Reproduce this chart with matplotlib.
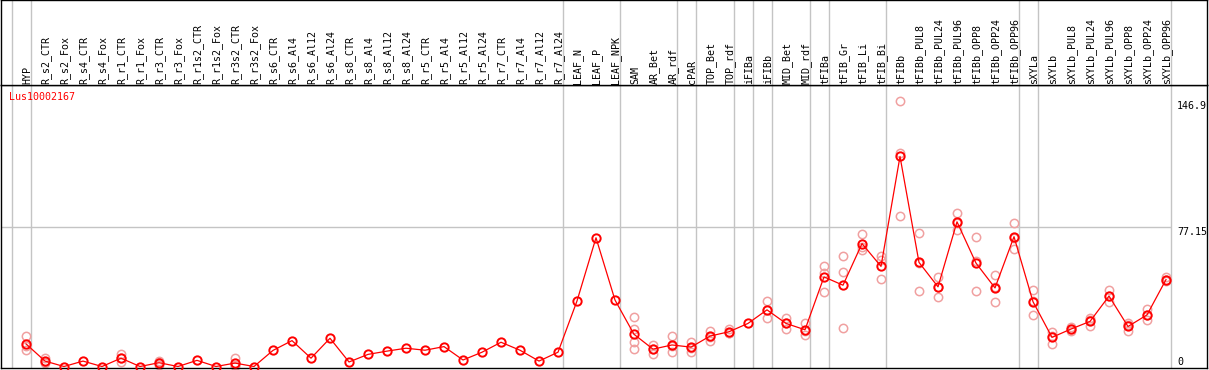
import matplotlib
matplotlib.use("Agg")
import matplotlib.pyplot as plt
from matplotlib.transforms import blended_transform_factory

gene = "Lus10002167"

labels = ["HYP",
          "R_s2_CTR", "R_s2_Fox", "R_s4_CTR", "R_s4_Fox", "R_r1_CTR", "R_r1_Fox",
          "R_r3_CTR", "R_r3_Fox", "R_r1s2_CTR", "R_r1s2_Fox", "R_r3s2_CTR", "R_r3s2_Fox",
          "R_s6_CTR", "R_s6_Al4", "R_s6_Al12", "R_s6_Al24",
          "R_s8_CTR", "R_s8_Al4", "R_s8_Al12", "R_s8_Al24",
          "R_r5_CTR", "R_r5_Al4", "R_r5_Al12", "R_r5_Al24",
          "R_r7_CTR", "R_r7_Al4", "R_r7_Al12", "R_r7_Al24",
          "LEAF_N", "LEAF_P", "LEAF_NPK",
          "SAM", "AR_Bet", "AR_rdf", "cPAR", "TOP_Bet", "TOP_rdf",
          "iFIBa", "iFIBb", "MID_Bet", "MID_rdf",
          "tFIBa", "tFIB_Gr", "tFIB_Li", "tFIB_Bi",
          "tFIBb", "tFIBb_PUL8", "tFIBb_PUL24", "tFIBb_PUL96",
          "tFIBb_OPP8", "tFIBb_OPP24", "tFIBb_OPP96",
          "sXYLa", "sXYLb", "sXYLb_PUL8", "sXYLb_PUL24", "sXYLb_PUL96",
          "sXYLb_OPP8", "sXYLb_OPP24", "sXYLb_OPP96"]

# mean expression per sample
means = [12.5,
         3.0, 0.0, 3.0, 0.0, 4.6, 0.0, 2.1, 0.0, 3.4, 0.0, 1.9, 0.0,
         8.9, 14.3, 4.6, 15.6, 2.5, 6.7, 8.5, 10.1,
         9.0, 11.0, 3.6, 7.9, 13.4, 9.0, 3.0, 7.9,
         36.2, 71.1, 36.7,
         17.8, 9.6, 11.9, 10.7, 16.8, 19.2,
         23.8, 31.3, 23.8, 20.3,
         49.5, 44.9, 67.9, 55.3,
         116.0, 57.5, 44.0, 79.9, 57.1, 43.4, 71.7,
         35.8, 16.1, 20.7, 24.9, 38.9, 22.1, 28.5, 48.0]

# replicate values that show up apart from the mean
reps = {0: [17.0, 8.9, 11.6],
        1: [4.6, 1.9, 2.5],
        5: [6.7, 2.5, 4.6],
        7: [3.0, 1.0, 2.3],
        11: [4.6, 0.5, 0.6],
        32: [27.6, 20.9, 13.8, 9.4],
        33: [12.1, 7.0, 9.7],
        34: [16.7, 7.8, 11.2],
        35: [13.8, 7.8, 10.5],
        36: [19.8, 14.3, 16.3],
        37: [20.7, 18.3, 18.6],
        39: [36.2, 26.7, 31.0],
        40: [26.7, 20.9, 23.8],
        41: [23.9, 17.6, 19.4],
        42: [55.3, 51.6, 41.1],
        43: [60.8, 52.2, 21.4],
        44: [73.0, 66.2, 64.5],
        45: [60.8, 58.9, 48.2],
        46: [146.9, 83.2, 117.9],
        47: [73.5, 41.6, 57.4],
        48: [49.5, 38.4, 44.1],
        49: [85.0, 75.3, 79.4],
        50: [71.7, 41.6, 58.0],
        51: [50.7, 35.6, 43.9],
        52: [79.3, 64.8, 71.0],
        53: [42.5, 28.5, 36.4],
        54: [18.9, 12.5, 16.9],
        55: [21.6, 19.8, 20.7],
        56: [26.7, 22.1, 25.9],
        57: [42.0, 35.6, 39.1],
        58: [23.9, 19.4, 23.0],
        59: [31.6, 25.6, 28.3],
        60: [49.3, 47.1, 47.6]}

# last sample index of each tissue group (-1 = left edge)
group_ends = [-1, 0, 28, 31, 34, 35, 37, 38, 39, 41, 42, 45, 52, 53, 60]

y_marks = [146.9, 77.15, 0]

W, H = 1209, 370
plt.rcParams['font.family'] = ['DejaVu Sans Mono']
fig = plt.figure(figsize=(W / 100, H / 100), dpi=100)


def box(x0, y0, x1, y1):
    return [x0 / W, 1 - y1 / H, (x1 - x0) / W, (y1 - y0) / H]


ax = fig.add_axes(box(1, 85, 1207, 368))
hd = fig.add_axes(box(1, 0, 1207, 85))

step, x_first = 19.0, 26.0
xl = ((1 - x_first) / step, (1207 - x_first) / step)
for a in (ax, hd):
    a.set_xlim(*xl)
    a.set_xticks([])
    a.set_yticks([])
    for s in a.spines.values():
        s.set_color('black')
        s.set_linewidth(1)
ax.set_ylim(-1.5 / 1.83, 284.5 / 1.83)
hd.set_ylim(0, 1)

grey = '#c4c4c4'
for e in group_ends:
    ax.axvline(e + 0.24, color=grey, lw=1, zorder=0)
    hd.axvline(e + 0.24, color=grey, lw=1, zorder=0)
ax.hlines(77.15, xl[0], group_ends[-1] + 0.24, color=grey, lw=1, zorder=0)

for i, r in reps.items():
    ax.plot([i] * len(r), r, 'o', mfc='none', mec='#f0a0a0', ms=6, mew=1.1,
            clip_on=False, zorder=2)
ax.plot(range(len(means)), means, '-', color='red', lw=0.9, marker='o',
        mfc='none', mec='red', ms=6, mew=1.4, clip_on=False, zorder=3)

tr = blended_transform_factory(ax.transAxes, ax.transData)
xf = (1177 - 1) / 1206
ax.text(xf, y_marks[0], "146.9", transform=tr, va='top', ha='left', fontsize=7.2)
ax.text(xf, y_marks[1], "77.15", transform=tr, va='top', ha='left', fontsize=7.2)
ax.text(xf, y_marks[2], "0", transform=tr, va='bottom', ha='left', fontsize=7.2)

ax.text(8 / 1206, (368 - 97) / 283, gene, transform=ax.transAxes, color='red',
        va='center', ha='left', fontsize=7.2)

htr = blended_transform_factory(hd.transData, hd.transAxes)
for i, lab in enumerate(labels):
    hd.text(i + 0.05, 1.5 / 85, lab, transform=htr, rotation=90, ha='center',
            va='bottom', fontsize=7.2)

fig.savefig("out.png", dpi=100)
